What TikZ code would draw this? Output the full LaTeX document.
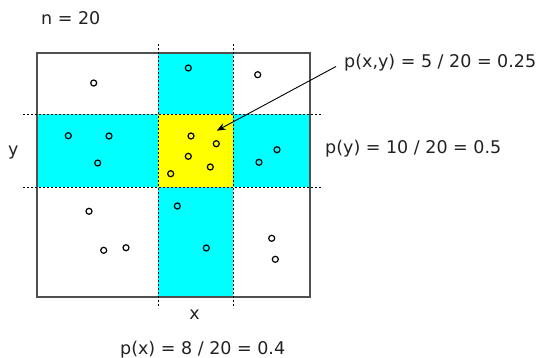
\documentclass[tikz,border=0pt]{standalone}
\usepackage{fontspec}
\setmainfont{DejaVu Sans}
\usetikzlibrary{arrows.meta}

\begin{document}
\begin{tikzpicture}[x=1pt, y=-1pt] % pixel-like units, y pointing down

        % Colour definitions
        \definecolor{band}{HTML}{00FFFF}  % marginal strips
        \definecolor{cell}{HTML}{FFFF00}  % joint cell
        \definecolor{frame}{HTML}{505050} % outer box
        \definecolor{ink}{HTML}{222222}   % text

        \tikzset{
            txt/.style={inner sep=0pt, text=ink, font=\fontsize{17.5}{21}\selectfont},
            obs/.style={draw=black, line width=1.2pt},
            cutline/.style={black, line width=0.8pt, dash pattern=on 2pt off 2pt}
        }

        \useasboundingbox (0,0) rectangle (541,357);

        % === Shaded strips ===
        \fill[band] (158,53) rectangle (233,297);
        \fill[band] (37,114) rectangle (310,187);
        \fill[cell] (158,114) rectangle (233,187);

        % Outer box
        \draw[frame, line width=1.3pt] (37,53) rectangle (310,297);

        % Dashed cuts for x and y
        \draw[cutline] (158,44) -- (158,308);
        \draw[cutline] (233,44) -- (233,308);
        \draw[cutline] (23,114) -- (322,114);
        \draw[cutline] (23,187) -- (322,187);

        % The 20 samples
        \foreach \p in {(93.7,83), (188.3,68), (257.7,74.7),
                        (68.3,135.7), (109,136), (97.7,163),
                        (191,136), (216.3,143.7), (188.3,156.3), (210.3,167), (170.7,173.7),
                        (259,162.3), (277,149.7),
                        (89,211.3), (177.3,206), (103.7,250.3), (126,247.7),
                        (206.3,248), (271.7,238.3), (275.3,259.3)}
            \draw[obs] \p circle (3);

        % Labels
        \node[txt, anchor=base west] (n) at (41,24) {n = 20};
        \node[txt, anchor=base west] (ylab) at (8,155) {y};
        \node[txt, anchor=base] (xlab) at (194.5,319) {x};
        \node[txt, anchor=base west] (px) at (120,354) {p(x) = 8 / 20 = 0.4};
        \node[txt, anchor=base west] (py) at (325,153) {p(y) = 10 / 20 = 0.5};
        \node[txt, anchor=base west] (pxy) at (344,67) {p(x,y) = 5 / 20 = 0.25};

        % Pointer into the joint cell
        \coordinate (tip) at (216.7,130.7);
        \draw[-{Stealth[length=9pt, width=7pt]}, line width=0.9pt, shorten <=9pt] (pxy.west) -- (tip);

\end{tikzpicture}
\end{document}
